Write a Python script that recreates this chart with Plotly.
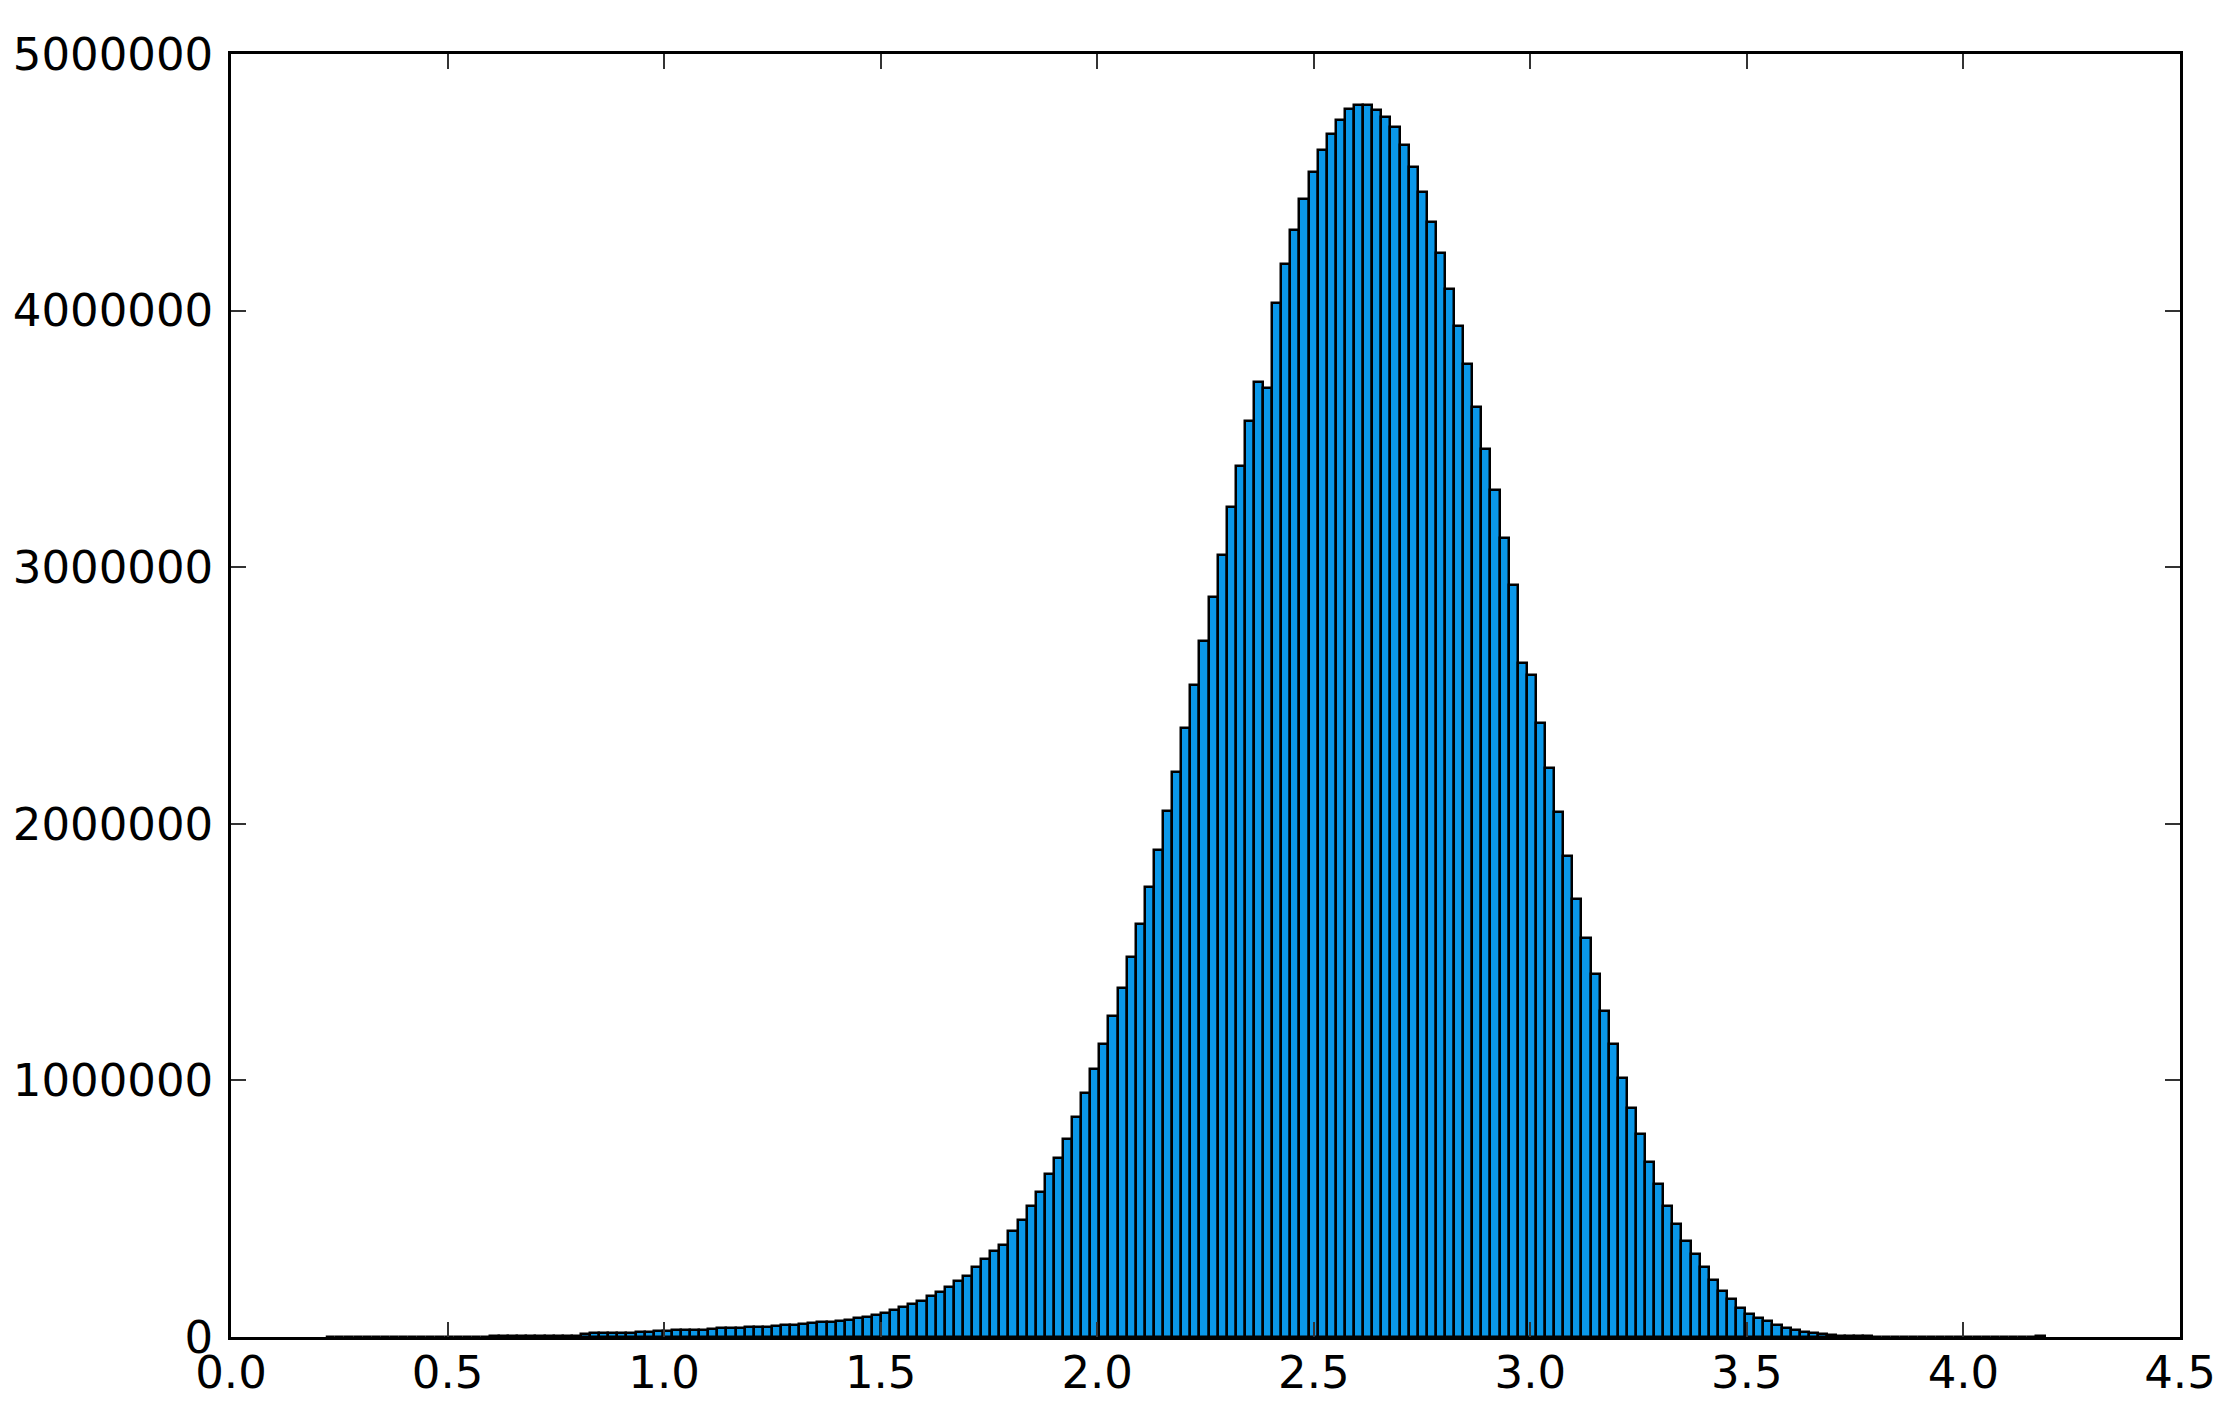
import plotly.graph_objects as go

# histogram: 190 equal bins between the data min and max
bin_start = 0.22
bin_width = 0.021

counts = [
    # 0.22 - 0.80 (far left tail)
    300, 400, 400, 500, 500, 600, 600, 700, 700, 800,
    900, 1000, 1100, 1200, 1400, 1500, 1700, 1900, 2100, 2300,
    2600, 2900, 3200, 3600, 4000, 4500, 5000, 5600,
    # 0.81 - 1.44
    13000, 14000, 15000, 16000, 16500, 17000, 18000, 19000,
    24000, 25000, 26000, 27000, 28000, 29000, 30000,
    34000, 35000, 36000, 38000, 39000, 40000,
    44000, 46000, 48000, 50000,
    53000, 57000, 60000,
    64000, 68000, 73000,
    # 1.46 - 2.00
    79000, 86000, 95000, 105000, 118000, 129000, 140000, 161000, 174000, 196000,
    219000, 238000, 272000, 304000, 336000, 359000, 414000, 456000, 512000, 566000,
    634000, 699000, 772000, 859000, 950000, 1044000,
    # 2.00 - 2.60
    1142000, 1251000, 1362000, 1479000, 1611000, 1752000, 1898000, 2050000, 2200000, 2375000,
    2539000, 2712000, 2884000, 3048000, 3233000, 3396000, 3571000, 3720000, 3700000, 4030000,
    4182000, 4314000, 4436000, 4540000, 4627000, 4690000, 4741000, 4786000,
    # peak and right side
    4802000, 4802000, 4783000, 4754000, 4714000, 4647000, 4560000, 4464000, 4344000, 4226000,
    4083000, 3940000, 3792000, 3624000, 3462000, 3299000, 3115000, 2930000, 2625000, 2578000,
    2393000, 2219000, 2046000, 1874000, 1707000, 1555000, 1413000, 1270000, 1140000, 1010000,
    893000, 791000, 682000, 596000, 510000, 440000, 374000, 325000, 271000, 224000,
    181000, 147000, 113000, 91000, 75000, 62000, 47000, 35000, 27000, 20000,
    15000, 10000, 7000, 5000,
    # far right tail 3.72 - 4.21
    3500, 2800, 2200, 1800, 1500, 1200, 1000, 900, 800, 700,
    600, 500, 450, 400, 350, 300, 250, 200, 150, 100,
    0, 2500,
]

bin_centers = [bin_start + (i + 0.5) * bin_width for i in range(len(counts))]

x_ticks = [0.0, 0.5, 1.0, 1.5, 2.0, 2.5, 3.0, 3.5, 4.0, 4.5]
y_ticks = [0, 1000000, 2000000, 3000000, 4000000, 5000000]

fig = go.Figure()
fig.add_trace(go.Bar(
    x=bin_centers,
    y=counts,
    width=bin_width,
    marker=dict(color="#0a97e8", line=dict(color="black", width=2.5)),
    showlegend=False,
))

axis_style = dict(
    showline=True,
    linecolor="black",
    linewidth=2.5,
    mirror="ticks",
    ticks="inside",
    ticklen=15,
    tickwidth=2,
    tickcolor="#333333",
    showgrid=False,
    zeroline=False,
    automargin=False,
    tickfont=dict(family="DejaVu Sans", size=45, color="black"),
)

fig.update_xaxes(range=[0, 4.5], tickvals=x_ticks, tickformat=".1f", ticklabelstandoff=-6, **axis_style)
fig.update_yaxes(range=[0, 5000000], tickvals=y_ticks, tickformat="d", ticklabelstandoff=6, **axis_style)

# page body adds an 8px margin, so the figure is a bit smaller than the window
fig.update_layout(
    width=2210,
    height=1390,
    bargap=0,
    plot_bgcolor="white",
    paper_bgcolor="white",
    margin=dict(l=223, r=38, t=46, b=61, autoexpand=False),
)

fig.write_html("out.html")
